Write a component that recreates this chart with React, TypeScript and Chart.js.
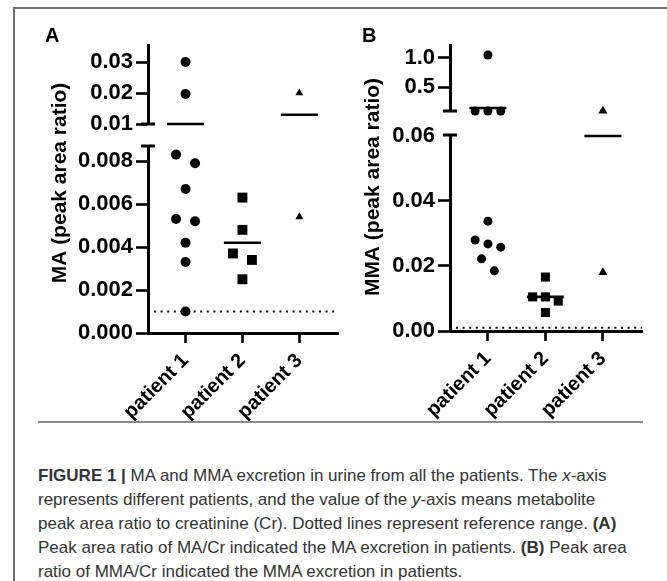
import React, { useEffect, useRef } from 'react';
import { Chart, registerables } from 'chart.js';

Chart.register(...registerables);

// ---------- data ----------
const patientLabels = ['patient 1', 'patient 2', 'patient 3'];
const markerStyles = ['circle', 'rect', 'triangle'];

// Panel A: MA (peak area ratio)
const maPatient1 = [0.030, 0.0197, 0.0083, 0.0079, 0.0067, 0.0053, 0.0052, 0.0042, 0.0033, 0.0010];
const maPatient2 = [0.0063, 0.0048, 0.0037, 0.0034, 0.0025];
const maPatient3 = [0.020, 0.0054];
const maMeans = [0.010, 0.0042, 0.013];
const maReference = 0.001;
const maLowerTicks = [0, 0.002, 0.004, 0.006, 0.008];
const maUpperTicks = [0.01, 0.02, 0.03];
const maLowerRange = [0, 0.0087];
const maUpperRange = [0.01, 0.0355];

// Panel B: MMA (peak area ratio)
const mmaPatient1 = [1.05, 0.1, 0.1, 0.1, 0.0338, 0.028, 0.0268, 0.0258, 0.0222, 0.0185];
const mmaPatient2 = [0.0166, 0.0105, 0.0105, 0.0092, 0.0057];
const mmaPatient3 = [0.1, 0.018];
const mmaMeans = [0.15, 0.0105, 0.06];
const mmaReference = 0.001;
const mmaLowerTicks = [0, 0.02, 0.04, 0.06];
const mmaUpperTicks = [0.5, 1.0];
const mmaLowerRange = [0, 0.0603];
const mmaUpperRange = [0.1, 1.22];

// ---------- styles ----------
const FONT_FAMILY = "'Liberation Sans', Arial, Helvetica, sans-serif";
const yTickFont = { family: FONT_FAMILY, weight: 'bold' as const, size: 22 };
const xTickFont = { family: FONT_FAMILY, weight: 'bold' as const, size: 20 };

type PanelSpec = {
  title: string;
  groups: number[][];
  means: number[];
  reference: number;
  lowerTicks: number[];
  upperTicks: number[];
  lowerRange: number[];
  upperRange: number[];
  lowerDecimals: number;
  upperDecimals: number;
  hiddenTickValues: number[];
  weights: [number, number, number]; // upper, gap, lower
  axisWidth: number;
  xAxisHeight: number;
  padTop: number;
  padRight: number;
  markerRadius: number[];
  jitterPx: number;
  titleX: number;
  titleY: number;
  width: number;
  height: number;
  left: number;
  top: number;
};

const panelA: PanelSpec = {
  title: 'MA (peak area ratio)',
  groups: [maPatient1, maPatient2, maPatient3],
  means: maMeans,
  reference: maReference,
  lowerTicks: maLowerTicks,
  upperTicks: maUpperTicks,
  lowerRange: maLowerRange,
  upperRange: maUpperRange,
  lowerDecimals: 3,
  upperDecimals: 2,
  hiddenTickValues: [],
  weights: [79, 22, 187],
  axisWidth: 132,
  xAxisHeight: 96,
  padTop: 35,
  padRight: 5,
  markerRadius: [5, 7, 4.6],
  jitterPx: 19,
  titleX: 44,
  titleY: 173,
  width: 329,
  height: 419,
  left: 16,
  top: 10,
};

const panelB: PanelSpec = {
  title: 'MMA (peak area ratio)',
  groups: [mmaPatient1, mmaPatient2, mmaPatient3],
  means: mmaMeans,
  reference: mmaReference,
  lowerTicks: mmaLowerTicks,
  upperTicks: mmaUpperTicks,
  lowerRange: mmaLowerRange,
  upperRange: mmaUpperRange,
  lowerDecimals: 2,
  upperDecimals: 1,
  hiddenTickValues: [0.06],
  weights: [66, 24, 196],
  axisWidth: 105,
  xAxisHeight: 98,
  padTop: 35,
  padRight: 25,
  markerRadius: [4.5, 6.4, 5.2],
  jitterPx: 12.8,
  titleX: 28,
  titleY: 177,
  width: 322,
  height: 419,
  left: 345,
  top: 10,
};

function buildDatasets(spec: PanelSpec) {
  const out: any[] = [];
  spec.groups.forEach((values, p) => {
    const upper = values.filter((v) => v >= spec.upperRange[0]);
    const lower = values.filter((v) => v < spec.upperRange[0]);
    const parts: [number[], string][] = [
      [upper, 'yUpper'],
      [lower, 'yLower'],
    ];
    for (const [vals, axis] of parts) {
      if (!vals.length) continue;
      out.push({
        type: 'scatter',
        label: patientLabels[p],
        patient: p,
        xAxisID: 'x',
        yAxisID: axis,
        data: vals.map((v) => ({ x: p + 1, y: v })),
        pointStyle: markerStyles[p],
        pointRadius: spec.markerRadius[p],
        pointHoverRadius: spec.markerRadius[p],
        backgroundColor: '#000',
        borderColor: '#000',
        borderWidth: 0,
        showLine: false,
        clip: false,
      });
    }
  });
  return out;
}

function applyJitter(chart: any, spacingPx: number) {
  const xs = chart.scales.x;
  const pxPerUnit = Math.abs(xs.getPixelForValue(2) - xs.getPixelForValue(1));
  const threshold = 13;
  patientLabels.forEach((_, p) => {
    const pts: any[] = [];
    chart.data.datasets.forEach((ds: any) => {
      if (ds.patient !== p) return;
      const scale = chart.scales[ds.yAxisID];
      ds.data.forEach((pt: any) => {
        pts.push({ pt, py: scale.getPixelForValue(pt.y), v: pt.y });
      });
    });
    pts.sort((a, b) => a.py - b.py || b.v - a.v);
    const clusters: any[][] = [];
    let cur: any[] = [];
    for (const q of pts) {
      if (cur.length && q.py - cur[0].py < threshold) cur.push(q);
      else {
        if (cur.length) clusters.push(cur);
        cur = [q];
      }
    }
    if (cur.length) clusters.push(cur);
    for (const c of clusters) {
      const n = c.length;
      c.forEach((q, i) => {
        q.pt.x = p + 1 + ((i - (n - 1) / 2) * spacingPx) / pxPerUnit;
      });
    }
  });
}

function decorPlugin(spec: PanelSpec) {
  return {
    id: 'decor',
    beforeDatasetsDraw(chart: any) {
      const { ctx, chartArea, scales } = chart;
      const y = scales.yLower.getPixelForValue(spec.reference);
      ctx.save();
      ctx.setLineDash([2, 4.6]);
      ctx.lineWidth = 2;
      ctx.strokeStyle = '#000';
      ctx.beginPath();
      ctx.moveTo(chartArea.left + 6, y);
      ctx.lineTo(chartArea.right, y);
      ctx.stroke();
      ctx.restore();
    },
    afterDatasetsDraw(chart: any) {
      const { ctx, scales } = chart;
      ctx.save();
      ctx.lineWidth = 2.6;
      ctx.strokeStyle = '#000';
      spec.means.forEach((m, p) => {
        const scale = m >= spec.upperRange[0] ? scales.yUpper : scales.yLower;
        const y = scale.getPixelForValue(m);
        const x = scales.x.getPixelForValue(p + 1);
        ctx.beginPath();
        ctx.moveTo(x - 18.5, y);
        ctx.lineTo(x + 18.5, y);
        ctx.stroke();
      });
      ctx.restore();
    },
    afterDraw(chart: any) {
      const { ctx, chartArea, scales } = chart;
      const ax = chartArea.left;
      ctx.save();
      ctx.lineWidth = 3;
      ctx.strokeStyle = '#000';
      ctx.beginPath();
      ctx.moveTo(ax - 7, scales.yUpper.bottom);
      ctx.lineTo(ax + 7, scales.yUpper.bottom);
      ctx.moveTo(ax - 7, scales.yLower.top);
      ctx.lineTo(ax + 7, scales.yLower.top);
      ctx.stroke();
      ctx.translate(spec.titleX, spec.titleY);
      ctx.rotate(-Math.PI / 2);
      ctx.font = `bold 21px ${FONT_FAMILY}`;
      ctx.fillStyle = '#000';
      ctx.textAlign = 'center';
      ctx.textBaseline = 'middle';
      ctx.fillText(spec.title, 0, 0);
      ctx.restore();
    },
  };
}

function makeConfig(spec: PanelSpec): any {
  const fitWidth = (s: any) => {
    s.width = spec.axisWidth;
  };
  const yGrid = {
    display: true,
    drawOnChartArea: false,
    drawTicks: true,
    tickLength: 12,
    tickWidth: 2.6,
    tickColor: (ctx: any) =>
      ctx.tick && spec.hiddenTickValues.includes(ctx.tick.value) ? 'rgba(0,0,0,0)' : '#000',
  };
  return {
    type: 'scatter',
    data: { datasets: buildDatasets(spec) },
    plugins: [decorPlugin(spec)],
    options: {
      responsive: false,
      maintainAspectRatio: false,
      animation: false,
      events: [],
      layout: { padding: { top: spec.padTop, right: spec.padRight, left: 0, bottom: 0 } },
      plugins: { legend: { display: false }, tooltip: { enabled: false }, title: { display: false } },
      scales: {
        x: {
          type: 'linear',
          position: 'bottom',
          min: 0.34,
          max: 3.68,
          afterBuildTicks: (s: any) => {
            s.ticks = patientLabels.map((_, i) => ({ value: i + 1 }));
          },
          afterFit: (s: any) => {
            s.height = spec.xAxisHeight;
          },
          ticks: {
            callback: (v: any) => patientLabels[Math.round(v) - 1] ?? '',
            minRotation: 45,
            maxRotation: 45,
            autoSkip: false,
            font: xTickFont,
            color: '#000',
            padding: 6,
          },
          grid: {
            display: true,
            drawOnChartArea: false,
            drawTicks: true,
            tickLength: 10,
            tickWidth: 2.6,
            tickColor: '#000',
          },
          border: { display: true, width: 3, color: '#000' },
        },
        yLower: {
          type: 'linear',
          position: 'left',
          stack: 'y',
          stackWeight: spec.weights[2],
          min: spec.lowerRange[0],
          max: spec.lowerRange[1],
          afterFit: fitWidth,
          afterBuildTicks: (s: any) => {
            s.ticks = spec.lowerTicks.map((v) => ({ value: v }));
          },
          ticks: {
            callback: (v: any) => Number(v).toFixed(spec.lowerDecimals),
            font: yTickFont,
            color: '#000',
            padding: 3,
            autoSkip: false,
          },
          grid: yGrid,
          border: { display: true, width: 3, color: '#000' },
        },
        yGap: {
          type: 'linear',
          position: 'left',
          stack: 'y',
          stackWeight: spec.weights[1],
          min: 0,
          max: 1,
          afterFit: fitWidth,
          ticks: { display: false },
          grid: { display: false },
          border: { display: false },
        },
        yUpper: {
          type: 'linear',
          position: 'left',
          stack: 'y',
          stackWeight: spec.weights[0],
          min: spec.upperRange[0],
          max: spec.upperRange[1],
          afterFit: fitWidth,
          afterBuildTicks: (s: any) => {
            s.ticks = spec.upperTicks.map((v) => ({ value: v }));
          },
          ticks: {
            callback: (v: any) => Number(v).toFixed(spec.upperDecimals),
            font: yTickFont,
            color: '#000',
            padding: 3,
            autoSkip: false,
          },
          grid: yGrid,
          border: { display: true, width: 3, color: '#000' },
        },
      },
    },
  };
}

function Panel({ spec }: { spec: PanelSpec }) {
  const ref = useRef<HTMLCanvasElement>(null);
  useEffect(() => {
    if (!ref.current) return;
    const chart = new Chart(ref.current, makeConfig(spec));
    applyJitter(chart, spec.jitterPx);
    chart.update('none');
    return () => chart.destroy();
  }, [spec]);
  return (
    <canvas
      ref={ref}
      width={spec.width}
      height={spec.height}
      style={{
        position: 'absolute',
        left: spec.left,
        top: spec.top,
        width: spec.width,
        height: spec.height,
      }}
    />
  );
}

const letterStyle: React.CSSProperties = {
  position: 'absolute',
  fontFamily: FONT_FAMILY,
  fontWeight: 'bold',
  fontSize: 20,
  lineHeight: '20px',
  color: '#000',
};

export default function App() {
  return (
    <div
      style={{
        position: 'fixed',
        left: 0,
        top: 0,
        width: 667,
        height: 581,
        background: '#fff',
        overflow: 'hidden',
      }}
    >
      <div
        style={{
          position: 'absolute',
          left: 13,
          top: 7,
          width: 700,
          height: 600,
          borderLeft: '2px solid #6e6e6e',
          borderTop: '2px solid #6e6e6e',
        }}
      />
      <Panel spec={panelA} />
      <Panel spec={panelB} />
      <div style={{ ...letterStyle, left: 45, top: 25 }}>A</div>
      <div style={{ ...letterStyle, left: 362, top: 25 }}>B</div>
      <div
        style={{
          position: 'absolute',
          left: 38,
          top: 421,
          width: 605,
          height: 0,
          borderTop: '2px solid #8c8c8c',
        }}
      />
      <div
        style={{
          position: 'absolute',
          left: 38,
          top: 464,
          fontFamily: FONT_FAMILY,
          fontSize: 17,
          lineHeight: '24px',
          color: '#333',
          whiteSpace: 'nowrap',
        }}
      >
        <div>
          <b>FIGURE 1 |</b> MA and MMA excretion in urine from all the patients. The <i>x</i>-axis
        </div>
        <div>
          represents different patients, and the value of the <i>y</i>-axis means metabolite
        </div>
        <div>
          peak area ratio to creatinine (Cr). Dotted lines represent reference range. <b>(A)</b>
        </div>
        <div>
          Peak area ratio of MA/Cr indicated the MA excretion in patients. <b>(B)</b> Peak area
        </div>
        <div>ratio of MMA/Cr indicated the MMA excretion in patients.</div>
      </div>
    </div>
  );
}
